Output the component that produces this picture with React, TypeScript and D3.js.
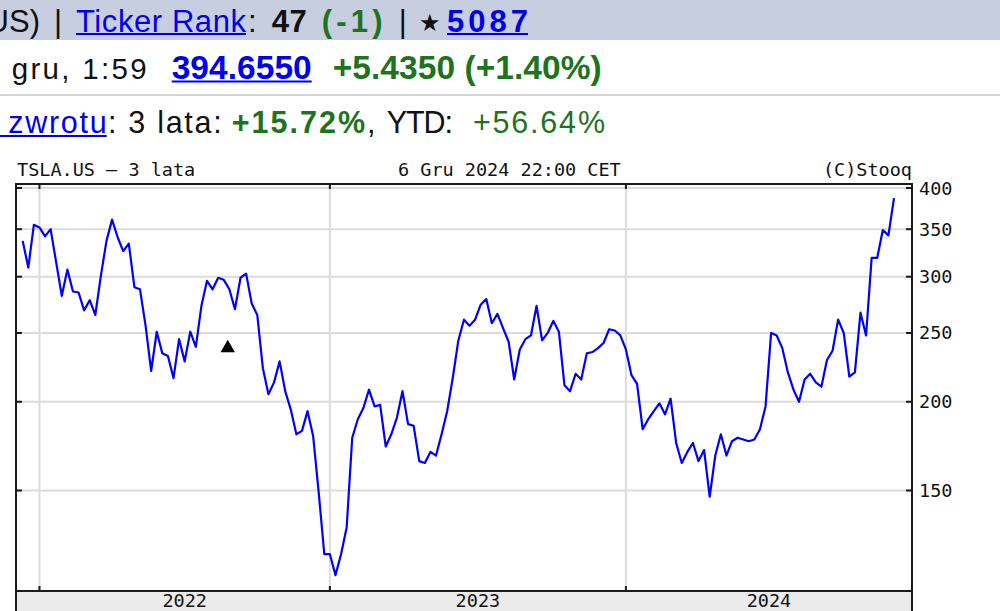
import * as d3 from 'd3';

// weekly closes (USD), week ending Sunday, Dec 2021 -> Dec 2024
const closes = [
  337, 309, 355, 352, 342, 350, 314, 282, 307, 286, 285, 269, 278, 265, 301, 337,
  361, 341, 326, 334, 290, 288, 256, 221, 251, 234, 232, 216, 245, 228, 251, 239,
  273, 296, 288, 299, 297, 288, 270, 299, 303, 275, 265, 223, 205, 213, 228, 207,
  195, 180, 182, 194, 179, 149, 122, 122, 114, 122, 133, 178, 189, 196, 208, 197,
  198, 173, 180, 190, 207, 186, 185, 165, 164, 170, 168, 180, 194, 216, 244, 261,
  256, 261, 274, 279, 258, 266, 254, 243, 215, 237, 245, 248, 273, 244, 250, 260,
  251, 211, 207, 219, 215, 234, 235, 238, 242, 253, 252, 248, 237, 218, 212, 183,
  189, 194, 199, 192, 202, 175, 164, 170, 175, 165, 171, 147, 168, 180, 168, 176,
  178, 177, 176, 177, 183, 197, 250, 248, 238, 220, 208, 200, 215, 219, 213, 210,
  229, 236, 261, 250, 217, 220, 267, 248, 319, 319, 349, 343, 387,
];
const weeks = d3.timeSunday.range(new Date(2021, 11, 12), new Date(2024, 11, 9));
const yTicks = [150, 200, 250, 300, 350, 400];
const years = [2022, 2023, 2024];
const splitMarks = [{ date: new Date(2022, 7, 26), value: 238 }];

const W = 1000;
const H = 611;
const plot = { left: 16, right: 912, top: 184, bottom: 591 };
const mono = '"DejaVu Sans Mono", monospace';
const sans = '"Liberation Sans", Arial, sans-serif';
const blue = '#0000ee';
const green = '#1d741d';

export default function App() {
  const data = weeks.map((d, i) => ({ date: d, value: closes[i] }));

  const x = d3
    .scaleTime()
    .domain([weeks[0], weeks[weeks.length - 1]])
    .range([22.7, 894]);
  const y = d3.scaleLog().domain([150, 400]).range([490.5, 188]);

  const line = d3
    .line<{ date: Date; value: number }>()
    .x((d) => x(d.date))
    .y((d) => y(d.value));

  // grid lines sit on the first weekly point of each year
  const yearX = years.map((yr) => x(d3.timeSunday.ceil(new Date(yr, 0, 1))));
  const yearMid = yearX.map((v, i) => (v + (i < yearX.length - 1 ? yearX[i + 1] : plot.right)) / 2);

  const tri = d3.symbol().type(d3.symbolTriangle).size(90)();

  return (
    <svg
      width={W}
      height={H}
      style={{ position: 'absolute', left: 0, top: 0, background: '#fff' }}
    >
      {/* page header */}
      <rect x={0} y={0} width={W} height={40} fill="#c6cee0" />
      <g fontFamily={sans} fontSize={31}>
        <text x={40} y={31.5} textAnchor="end" fill="#111">US)</text>
        <text x={58} y={31.5} textAnchor="middle" fill="#111">|</text>
        <text x={76} y={31.5} fill={blue} textLength={170} lengthAdjust="spacing">Ticker Rank</text>
        <rect x={76} y={33} width={170} height={2} fill={blue} />
        <text x={248} y={31.5} fill="#111">:</text>
        <text x={271.7} y={31.5} fill="#111" fontWeight="bold" textLength={35} lengthAdjust="spacing">47</text>
        <text x={321.7} y={31.5} fill={green} fontWeight="bold" textLength={61} lengthAdjust="spacing">(-1)</text>
        <text x={402.7} y={31.5} textAnchor="middle" fill="#111">|</text>
        <text x={430} y={31} textAnchor="middle" fill="#111" fontSize={24}>★</text>
        <text x={447} y={31.5} fill={blue} fontWeight="bold" textLength={81} lengthAdjust="spacing">5087</text>
        <rect x={447} y={33} width={81} height={2} fill={blue} />
      </g>

      <g fontFamily={sans}>
        <text x={11.7} y={78.5} fontSize={29.5} fill="#111" textLength={135} lengthAdjust="spacing">gru, 1:59</text>
        <text x={171.7} y={78.5} fontSize={33.5} fontWeight="bold" fill={blue} textLength={140} lengthAdjust="spacing">394.6550</text>
        <rect x={171.7} y={80.5} width={140} height={2} fill={blue} />
        <text x={332.7} y={78.5} fontSize={33.5} fontWeight="bold" fill={green} textLength={269} lengthAdjust="spacing">+5.4350 (+1.40%)</text>
      </g>
      <rect x={0} y={94} width={W} height={2} fill="#d6d6d6" />

      <g fontFamily={sans} fontSize={30.5}>
        <rect x={0} y={135} width={106.7} height={2} fill={blue} />
        <text x={8.3} y={132.5} fill={blue} textLength={98.4} lengthAdjust="spacing">zwrotu</text>
        <text x={108} y={132.5} fill="#111" textLength={113.7} lengthAdjust="spacing">: 3 lata:</text>
        <text x={231.7} y={132.5} fill={green} fontWeight="bold" textLength={133.3} lengthAdjust="spacing">+15.72%</text>
        <text x={367} y={132.5} fill="#111">,</text>
        <text x={386.7} y={132.5} fill="#111" textLength={66.3} lengthAdjust="spacing">YTD:</text>
        <text x={473} y={132.5} fill={green} textLength={132} lengthAdjust="spacing">+56.64%</text>
      </g>

      {/* chart captions */}
      <g fontFamily={mono} fontSize={18.5} fill="#111">
        <text x={17} y={175.5}>TSLA.US – 3 lata</text>
        <text x={398} y={175.5}>6 Gru 2024 22:00 CET</text>
        <text x={plot.right} y={175.5} textAnchor="end">(C)Stooq</text>
      </g>

      {/* grid */}
      <g stroke="#dcdcdc" strokeWidth={2}>
        {yTicks.map((t) => (
          <line key={t} x1={plot.left} x2={plot.right} y1={y(t)} y2={y(t)} />
        ))}
        {yearX.map((v, i) => (
          <line key={i} x1={v} x2={v} y1={plot.top} y2={plot.bottom} />
        ))}
      </g>

      {/* price line */}
      <path d={line(data) ?? ''} fill="none" stroke="#0000ff" strokeWidth={2.2} strokeLinejoin="round" />

      {/* split marker */}
      {splitMarks.map((m, i) => (
        <path key={i} d={tri ?? ''} transform={`translate(${x(m.date)},${y(m.value)})`} fill="#000" />
      ))}

      {/* bottom band */}
      <rect x={plot.left} y={plot.bottom} width={plot.right - plot.left} height={H - plot.bottom} fill="#ebebeb" />
      <g fontFamily={mono} fontSize={18.5} fill="#111" textAnchor="middle">
        {years.map((yr, i) => (
          <text key={yr} x={yearMid[i]} y={607}>{yr}</text>
        ))}
      </g>

      {/* frame and ticks */}
      <g stroke="#1a1a1a" strokeWidth={2} fill="none">
        <line x1={plot.left - 1} x2={plot.right + 1} y1={plot.top} y2={plot.top} />
        <line x1={plot.left} x2={plot.right} y1={plot.bottom} y2={plot.bottom} />
        <line x1={plot.left} x2={plot.left} y1={plot.top} y2={H} />
        <line x1={plot.right} x2={plot.right} y1={plot.top} y2={H} />
        {yTicks.map((t) => (
          <g key={t}>
            <line x1={plot.left} x2={plot.left + 6} y1={y(t)} y2={y(t)} />
            <line x1={plot.right - 6} x2={plot.right} y1={y(t)} y2={y(t)} />
          </g>
        ))}
        {yearX.map((v, i) => (
          <g key={i}>
            <line x1={v} x2={v} y1={plot.top} y2={plot.top + 5} />
            <line x1={v} x2={v} y1={plot.bottom - 5} y2={plot.bottom} />
          </g>
        ))}
      </g>

      {/* right axis labels */}
      <g fontFamily={mono} fontSize={18.5} fill="#111">
        {yTicks.map((t) => (
          <text key={t} x={919} y={y(t)} dominantBaseline="central">{t}</text>
        ))}
      </g>
    </svg>
  );
}
